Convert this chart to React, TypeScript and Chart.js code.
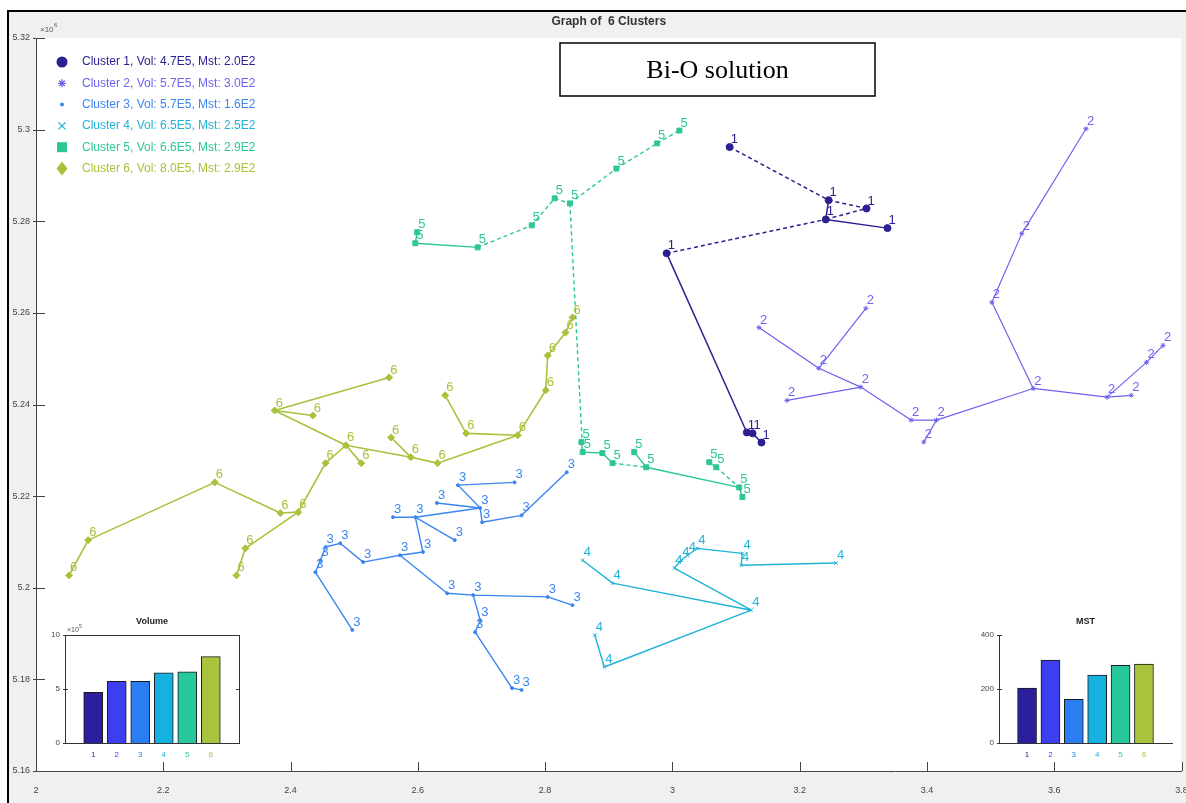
import React, { useEffect, useRef } from 'react';
import { Chart, registerables } from 'chart.js';

Chart.register(...registerables);

const W = 1186;
const H = 803;

// ---------- data ----------
const legendTexts = [
  'Cluster 1, Vol: 4.7E5, Mst: 2.0E2',
  'Cluster 2, Vol: 5.7E5, Mst: 3.0E2',
  'Cluster 3, Vol: 5.7E5, Mst: 1.6E2',
  'Cluster 4, Vol: 6.5E5, Mst: 2.5E2',
  'Cluster 5, Vol: 6.6E5, Mst: 2.9E2',
  'Cluster 6, Vol: 8.0E5, Mst: 2.9E2',
];
const clusterIds = ['1', '2', '3', '4', '5', '6'];
const lineColors = ['#2b2192', '#6d63ee', '#3b86f1', '#1fb3d8', '#2cc796', '#a7c23b'];
const barColors = ['#2c1f9c', '#3c3ef0', '#2a7ef2', '#16b1e0', '#26c89c', '#a8c43c'];

const volumeValues = [4.7, 5.7, 5.7, 6.5, 6.6, 8.0];
const mstValues = [203, 307, 162, 252, 288, 292];
const insetCategories = [1, 2, 3, 4, 5, 6];

const xTickValues = [2, 2.2, 2.4, 2.6, 2.8, 3, 3.2, 3.4, 3.6, 3.8];
const yTickValues = [5.16, 5.18, 5.2, 5.22, 5.24, 5.26, 5.28, 5.3, 5.32];

// Cluster 1
const c1X = [3.090, 3.2455, 3.305, 3.241, 3.338, 2.991, 3.117, 3.126, 3.140];
const c1Y = [5.2962, 5.2846, 5.2828, 5.2804, 5.2785, 5.2730, 5.2339, 5.2337, 5.2317];
const c1Solid = [[3, 4], [5, 6], [6, 7], [7, 8], [1, 3]];
const c1Dashed = [[0, 1], [1, 2], [3, 2], [5, 3]];

// Cluster 2
const c2X = [3.650, 3.549, 3.502, 3.567, 3.683, 3.721, 3.745, 3.771, 3.415, 3.395, 3.375, 3.296, 3.180, 3.230, 3.136, 3.304];
const c2Y = [5.3002, 5.2773, 5.2623, 5.2435, 5.2416, 5.2420, 5.2492, 5.2529, 5.2366, 5.2318, 5.2366, 5.2438, 5.2409, 5.2479, 5.2568, 5.2610];
const c2Solid = [[0, 1], [1, 2], [2, 3], [3, 4], [4, 5], [4, 6], [6, 7], [3, 8], [8, 9], [8, 10], [10, 11], [11, 12], [11, 13], [13, 14], [13, 15]];
const c2Dashed: number[][] = [];

// Cluster 3
const c3X = [2.834, 2.763, 2.701, 2.698, 2.752, 2.663, 2.630, 2.596, 2.561, 2.658, 2.608, 2.572, 2.514, 2.478, 2.455, 2.447, 2.439, 2.497, 2.646, 2.687, 2.804, 2.843, 2.698, 2.690, 2.748, 2.763];
const c3Y = [5.2252, 5.2158, 5.2143, 5.2174, 5.2230, 5.2224, 5.2185, 5.2154, 5.2154, 5.2104, 5.2078, 5.2071, 5.2056, 5.2097, 5.2089, 5.2060, 5.2034, 5.1908, 5.1988, 5.1984, 5.1980, 5.1962, 5.1929, 5.1903, 5.1781, 5.1777];
const c3Solid = [[0, 1], [1, 2], [2, 3], [3, 5], [5, 4], [3, 6], [3, 7], [7, 8], [7, 9], [7, 10], [10, 11], [11, 12], [12, 13], [13, 14], [14, 15], [15, 16], [16, 17], [11, 18], [18, 19], [19, 20], [20, 21], [19, 22], [22, 23], [23, 24], [24, 25]];
const c3Dashed: number[][] = [];

// Cluster 4
const c4X = [2.859, 2.906, 3.124, 2.893, 2.878, 3.003, 3.014, 3.024, 3.039, 3.110, 3.108, 3.257];
const c4Y = [5.2060, 5.2010, 5.1951, 5.1827, 5.1897, 5.2043, 5.2060, 5.2071, 5.2086, 5.2075, 5.2049, 5.2054];
const c4Solid = [[0, 1], [1, 2], [2, 5], [2, 3], [3, 4], [5, 6], [6, 7], [7, 8], [8, 9], [9, 10], [10, 11]];
const c4Dashed: number[][] = [];

// Cluster 5
const c5X = [2.596, 2.599, 2.694, 2.779, 2.815, 2.839, 2.912, 2.976, 3.011, 2.859, 2.890, 2.906, 2.940, 2.959, 3.058, 3.069, 3.105, 3.110, 2.857];
const c5Y = [5.2752, 5.2776, 5.2743, 5.2791, 5.2850, 5.2839, 5.2915, 5.2970, 5.2998, 5.2296, 5.2294, 5.2272, 5.2296, 5.2263, 5.2274, 5.2263, 5.2219, 5.2198, 5.2318];
const c5Solid = [[0, 1], [0, 2], [9, 10], [10, 11], [12, 13], [13, 16], [14, 15], [16, 17], [9, 18]];
const c5Dashed = [[2, 3], [3, 4], [4, 5], [5, 6], [6, 7], [7, 8], [5, 9], [11, 13], [15, 16]];

// Cluster 6
const c6X = [2.555, 2.375, 2.435, 2.487, 2.511, 2.558, 2.589, 2.631, 2.643, 2.676, 2.757, 2.801, 2.804, 2.832, 2.843, 2.281, 2.384, 2.412, 2.455, 2.082, 2.052, 2.329, 2.315];
const c6Y = [5.2459, 5.2387, 5.2376, 5.2311, 5.2272, 5.2328, 5.2285, 5.2272, 5.2420, 5.2337, 5.2333, 5.2431, 5.2507, 5.2557, 5.2590, 5.2230, 5.2163, 5.2165, 5.2272, 5.2104, 5.2027, 5.2086, 5.2027];
const c6Solid = [[1, 0], [1, 2], [1, 3], [3, 4], [3, 6], [5, 6], [6, 7], [7, 10], [8, 9], [9, 10], [10, 11], [11, 12], [12, 13], [13, 14], [3, 18], [18, 17], [15, 16], [16, 17], [17, 21], [21, 22], [15, 19], [19, 20]];
const c6Dashed: number[][] = [];

// ---------- helpers ----------
type Cluster = { xs: number[]; ys: number[]; solid: number[][]; dashed: number[][]; style: string; radius: number; lw: number };
const clusters: Cluster[] = [
  { xs: c1X, ys: c1Y, solid: c1Solid, dashed: c1Dashed, style: 'circle', radius: 3.5, lw: 1.5 },
  { xs: c2X, ys: c2Y, solid: c2Solid, dashed: c2Dashed, style: 'star', radius: 2.5, lw: 1.2 },
  { xs: c3X, ys: c3Y, solid: c3Solid, dashed: c3Dashed, style: 'circle', radius: 1.5, lw: 1.4 },
  { xs: c4X, ys: c4Y, solid: c4Solid, dashed: c4Dashed, style: 'crossRot', radius: 2.5, lw: 1.4 },
  { xs: c5X, ys: c5Y, solid: c5Solid, dashed: c5Dashed, style: 'rect', radius: 3.5, lw: 1.4 },
  { xs: c6X, ys: c6Y, solid: c6Solid, dashed: c6Dashed, style: 'rectRot', radius: 3.5, lw: 1.6 },
];

function edgeData(xs: number[], ys: number[], edges: number[][]) {
  const out: any[] = [];
  edges.forEach(([a, b]) => {
    out.push({ x: xs[a], y: ys[a] }, { x: xs[b], y: ys[b] }, { x: xs[b], y: null });
  });
  return out;
}

const fmt = (v: number) => String(parseFloat(Number(v).toFixed(2)));
const SANS = '"Liberation Sans", Arial, sans-serif';

function buildDatasets() {
  const ds: any[] = [];
  clusters.forEach((c, i) => {
    const col = lineColors[i];
    ds.push({
      data: edgeData(c.xs, c.ys, c.solid), showLine: true, spanGaps: false,
      borderColor: col, borderWidth: c.lw, pointRadius: 0, pointHoverRadius: 0,
    });
    if (c.dashed.length) {
      ds.push({
        data: edgeData(c.xs, c.ys, c.dashed), showLine: true, spanGaps: false,
        borderColor: col, borderWidth: c.lw, borderDash: [4, 3], pointRadius: 0, pointHoverRadius: 0,
      });
    }
    ds.push({
      data: c.xs.map((x, k) => ({ x, y: c.ys[k] })), showLine: false,
      pointStyle: c.style, pointRadius: c.radius, pointHoverRadius: c.radius,
      backgroundColor: col, borderColor: col, pointBorderWidth: 1,
    });
  });
  return ds;
}

function drawMarker(ctx: CanvasRenderingContext2D, i: number, x: number, y: number) {
  const col = lineColors[i];
  ctx.fillStyle = col;
  ctx.strokeStyle = col;
  ctx.lineWidth = 1.3;
  ctx.beginPath();
  if (i === 0) {
    ctx.arc(x, y, 5.5, 0, Math.PI * 2); ctx.fill();
  } else if (i === 1) {
    for (let k = 0; k < 4; k++) {
      const a = (k * Math.PI) / 4;
      ctx.moveTo(x - 4 * Math.cos(a), y - 4 * Math.sin(a));
      ctx.lineTo(x + 4 * Math.cos(a), y + 4 * Math.sin(a));
    }
    ctx.stroke();
  } else if (i === 2) {
    ctx.arc(x, y, 2, 0, Math.PI * 2); ctx.fill();
  } else if (i === 3) {
    ctx.moveTo(x - 3.5, y - 3.5); ctx.lineTo(x + 3.5, y + 3.5);
    ctx.moveTo(x + 3.5, y - 3.5); ctx.lineTo(x - 3.5, y + 3.5);
    ctx.stroke();
  } else if (i === 4) {
    ctx.rect(x - 5, y - 5, 10, 10); ctx.fill();
  } else {
    ctx.moveTo(x, y - 7); ctx.lineTo(x + 5.5, y); ctx.lineTo(x, y + 7); ctx.lineTo(x - 5.5, y); ctx.closePath(); ctx.fill();
  }
}

const mainDecor = {
  id: 'mainDecor',
  beforeDraw(chart: any) {
    const { ctx, chartArea: a } = chart;
    ctx.save();
    ctx.fillStyle = '#ffffff';
    ctx.fillRect(0, 0, W, H);
    ctx.fillStyle = '#f0f0f0';
    ctx.fillRect(9, 12, W - 9, H - 12);
    ctx.fillStyle = '#ffffff';
    ctx.fillRect(a.left, a.top, a.right - a.left, a.bottom - a.top);
    ctx.strokeStyle = '#000';
    ctx.lineWidth = 2;
    ctx.beginPath();
    ctx.moveTo(8, H);
    ctx.lineTo(8, 11);
    ctx.lineTo(W, 11);
    ctx.stroke();
    ctx.restore();
  },
  afterDatasetsDraw(chart: any) {
    const { ctx } = chart;
    const xs = chart.scales.x;
    const ys = chart.scales.y;
    ctx.save();
    ctx.font = `13px ${SANS}`;
    ctx.textAlign = 'left';
    ctx.textBaseline = 'bottom';
    clusters.forEach((c, i) => {
      ctx.fillStyle = lineColors[i];
      c.xs.forEach((x, k) => {
        const px = xs.getPixelForValue(x);
        const py = ys.getPixelForValue(c.ys[k]);
        ctx.fillText(clusterIds[i], px + 1, py - 1);
      });
    });
    ctx.restore();
  },
  afterDraw(chart: any) {
    const { ctx, chartArea: a } = chart;
    const xs = chart.scales.x;
    const ys = chart.scales.y;
    ctx.save();
    // inside ticks
    ctx.strokeStyle = '#444';
    ctx.lineWidth = 1;
    ctx.beginPath();
    xTickValues.forEach((v) => {
      const px = Math.round(xs.getPixelForValue(v)) + 0.5;
      ctx.moveTo(px, a.bottom);
      ctx.lineTo(px, a.bottom - 9);
    });
    yTickValues.forEach((v) => {
      const py = Math.round(ys.getPixelForValue(v)) + 0.5;
      ctx.moveTo(a.left - 3, py);
      ctx.lineTo(a.left + 9, py);
    });
    ctx.stroke();
    // exponent
    ctx.fillStyle = '#555';
    ctx.font = `8px ${SANS}`;
    ctx.textAlign = 'left';
    ctx.textBaseline = 'alphabetic';
    ctx.fillText('\u00d710', 40, 32);
    ctx.font = `6px ${SANS}`;
    ctx.fillText('6', 54, 27);
    // title
    ctx.fillStyle = '#333';
    ctx.font = `bold 12px ${SANS}`;
    ctx.textAlign = 'center';
    ctx.textBaseline = 'middle';
    ctx.fillText('Graph of  6 Clusters', (a.left + a.right) / 2, 22);
    // legend
    ctx.font = `12px ${SANS}`;
    ctx.textAlign = 'left';
    legendTexts.forEach((t, i) => {
      const y = 62 + i * 21.3;
      drawMarker(ctx, i, 62, y);
      ctx.fillStyle = lineColors[i];
      ctx.fillText(t, 82, y);
    });
    // annotation box
    ctx.fillStyle = '#ffffff';
    ctx.fillRect(560, 43, 315, 53);
    ctx.strokeStyle = '#000';
    ctx.lineWidth = 1.5;
    ctx.strokeRect(560, 43, 315, 53);
    ctx.fillStyle = '#000';
    ctx.font = '26px "Liberation Serif", "Times New Roman", serif';
    ctx.textAlign = 'center';
    ctx.textBaseline = 'middle';
    ctx.fillText('Bi-O solution', 717.5, 71);
    ctx.restore();
  },
};

function mainConfig(): any {
  return {
    type: 'scatter',
    data: { datasets: buildDatasets() },
    options: {
      responsive: false,
      animation: false,
      events: [],
      layout: { padding: { left: 0, top: 38, right: 3, bottom: 0 } },
      plugins: { legend: { display: false }, tooltip: { enabled: false }, title: { display: false } },
      scales: {
        x: {
          type: 'linear', min: 2, max: 3.8,
          afterBuildTicks: (s: any) => { s.ticks = xTickValues.map((v) => ({ value: v })); },
          afterFit: (s: any) => { s.height = 32; s.paddingLeft = 0; s.paddingRight = 0; },
          ticks: { callback: (v: any) => fmt(v), font: { size: 9, family: SANS }, color: '#444', padding: 14, maxRotation: 0, autoSkip: false },
          grid: { display: false, drawTicks: false, tickLength: 0 },
          border: { display: true, color: '#444', width: 1 },
        },
        y: {
          type: 'linear', min: 5.16, max: 5.32,
          afterBuildTicks: (s: any) => { s.ticks = yTickValues.map((v) => ({ value: v })); },
          afterFit: (s: any) => { s.width = 36; },
          ticks: { callback: (v: any) => fmt(v), font: { size: 9, family: SANS }, color: '#444', padding: 6, autoSkip: false },
          grid: { display: false, drawTicks: false, tickLength: 0 },
          border: { display: true, color: '#444', width: 1 },
        },
      },
    },
    plugins: [mainDecor],
  };
}

function insetConfig(values: number[], yMax: number, yTicks: number[], title: string, boxed: boolean, expo: string, yWidth: number, padRight: number): any {
  const decor = {
    id: 'insetDecor' + title,
    beforeDraw(chart: any) {
      const { ctx, chartArea: a } = chart;
      ctx.save();
      ctx.fillStyle = '#ffffff';
      ctx.fillRect(a.left, a.top, a.right - a.left, a.bottom - a.top);
      ctx.restore();
    },
    afterDraw(chart: any) {
      const { ctx, chartArea: a } = chart;
      const ys = chart.scales.y;
      ctx.save();
      ctx.strokeStyle = '#333';
      ctx.lineWidth = 1;
      if (boxed) {
        ctx.strokeRect(Math.round(a.left) + 0.5, Math.round(a.top) + 0.5, Math.round(a.right - a.left), Math.round(a.bottom - a.top));
      }
      ctx.beginPath();
      yTicks.forEach((v) => {
        const py = Math.round(ys.getPixelForValue(v)) + 0.5;
        ctx.moveTo(a.left - 2, py);
        ctx.lineTo(a.left + 3, py);
        if (boxed) {
          ctx.moveTo(a.right, py);
          ctx.lineTo(a.right - 3, py);
        }
      });
      ctx.stroke();
      ctx.fillStyle = '#222';
      ctx.font = `bold 9px ${SANS}`;
      ctx.textAlign = 'center';
      ctx.textBaseline = 'middle';
      ctx.fillText(title, (a.left + a.right) / 2, a.top - 13);
      if (expo) {
        ctx.fillStyle = '#555';
        ctx.font = `7px ${SANS}`;
        ctx.textAlign = 'left';
        ctx.textBaseline = 'alphabetic';
        ctx.fillText('\u00d710', a.left + 2, a.top - 3);
        ctx.font = `5px ${SANS}`;
        ctx.fillText(expo, a.left + 14, a.top - 7);
      }
      ctx.restore();
    },
  };
  return {
    type: 'bar',
    data: {
      datasets: [{
        data: insetCategories.map((c, k) => ({ x: c, y: values[k] })),
        backgroundColor: barColors, borderColor: '#1a1a1a', borderWidth: 1,
        barThickness: 19, grouped: false,
      }],
    },
    options: {
      responsive: false,
      animation: false,
      events: [],
      layout: { padding: { left: 0, top: 30, right: padRight, bottom: 0 } },
      plugins: { legend: { display: false }, tooltip: { enabled: false } },
      scales: {
        x: {
          type: 'linear', min: -0.2, max: 7.2, offset: false,
          afterBuildTicks: (s: any) => { s.ticks = insetCategories.map((v) => ({ value: v })); },
          afterFit: (s: any) => { s.height = 27; s.paddingLeft = 0; s.paddingRight = 0; },
          ticks: { callback: (v: any) => String(v), font: { size: 8, family: SANS }, color: (c: any) => barColors[(c.tick ? c.tick.value : 1) - 1] || '#444', padding: 7, maxRotation: 0, autoSkip: false },
          grid: { display: false, drawTicks: false, tickLength: 0 },
          border: { display: true, color: '#333', width: 1 },
        },
        y: {
          type: 'linear', min: 0, max: yMax,
          afterBuildTicks: (s: any) => { s.ticks = yTicks.map((v) => ({ value: v })); },
          afterFit: (s: any) => { s.width = yWidth; },
          ticks: { callback: (v: any) => String(v), font: { size: 8, family: SANS }, color: '#444', padding: 5, autoSkip: false },
          grid: { display: false, drawTicks: false, tickLength: 0 },
          border: { display: true, color: '#333', width: 1 },
        },
      },
    },
    plugins: [decor],
  };
}

export default function App() {
  const mainRef = useRef<HTMLCanvasElement>(null);
  const volRef = useRef<HTMLCanvasElement>(null);
  const mstRef = useRef<HTMLCanvasElement>(null);

  useEffect(() => {
    const charts: Chart[] = [];
    if (mainRef.current) charts.push(new Chart(mainRef.current, mainConfig()));
    if (volRef.current) charts.push(new Chart(volRef.current, insetConfig(volumeValues, 10, [0, 5, 10], 'Volume', true, '5', 45, 7)));
    if (mstRef.current) charts.push(new Chart(mstRef.current, insetConfig(mstValues, 400, [0, 200, 400], 'MST', false, '', 44, 8)));
    return () => charts.forEach((c) => c.destroy());
  }, []);

  return (
    <div style={{ position: 'fixed', left: 0, top: 0, width: W, height: H, background: '#fff', overflow: 'hidden' }}>
      <canvas ref={mainRef} width={W} height={H} style={{ position: 'absolute', left: 0, top: 0 }} />
      <canvas ref={volRef} width={226} height={165} style={{ position: 'absolute', left: 20, top: 605 }} />
      <canvas ref={mstRef} width={225} height={165} style={{ position: 'absolute', left: 955, top: 605 }} />
    </div>
  );
}
